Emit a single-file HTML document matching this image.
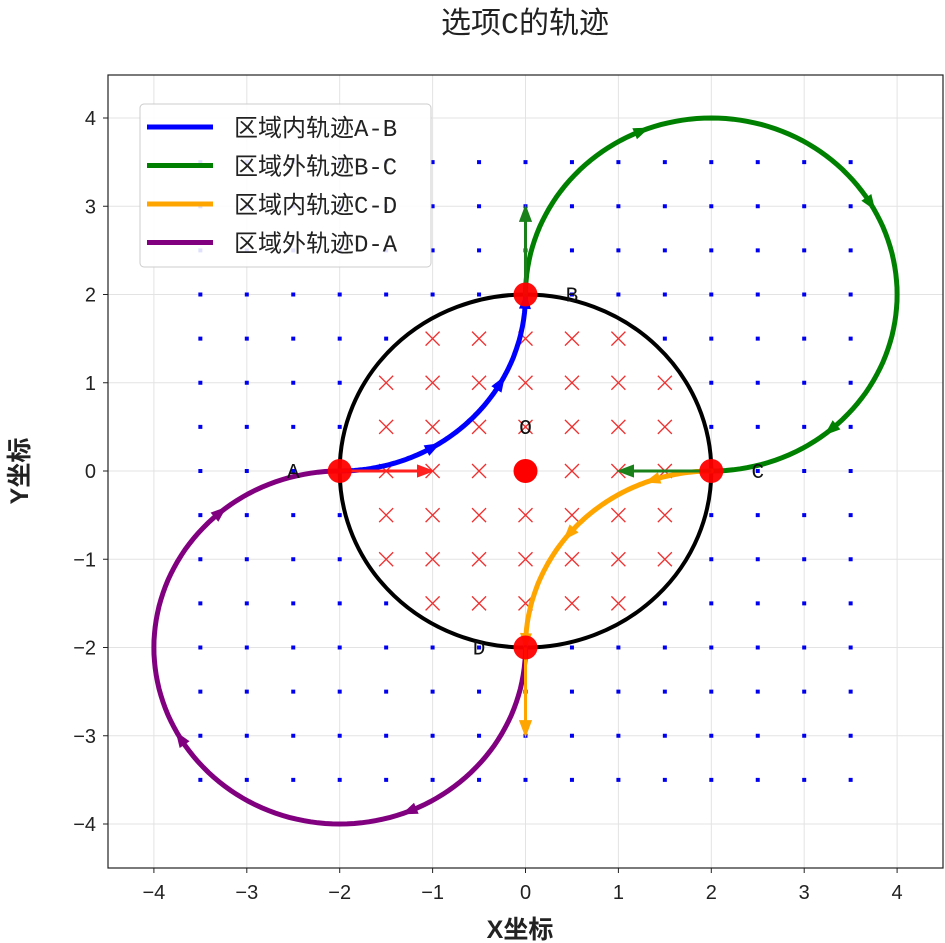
<!DOCTYPE html>
<html><head><meta charset="utf-8"><style>
html,body{margin:0;padding:0;background:#fff;}
svg{display:block;font-family:"Liberation Sans","Noto Sans CJK SC",sans-serif;}
</style></head><body>
<svg id="chart" width="945" height="943" viewBox="0 0 945 943">
<text x="525" y="33" text-anchor="middle" font-size="30" fill="#222" font-family="Liberation Mono, Noto Sans CJK SC, sans-serif">选项C的轨迹</text>
<g id="grid"></g>
<g id="field"></g>
<g id="curves"></g>
<g id="pts"></g>
<rect x="108" y="75" width="835" height="793" fill="none" stroke="#222" stroke-width="1.2"/>
<g id="ticks"></g>
<text x="520" y="938" text-anchor="middle" font-size="25" font-weight="bold" fill="#222">X坐标</text>
<text transform="translate(28,471) rotate(-90)" text-anchor="middle" font-size="25" font-weight="bold" fill="#222">Y坐标</text>
<g>
<rect x="140" y="104" width="291" height="163" rx="4" fill="#fff" fill-opacity="0.88" stroke="#ccc"/>
<g id="legend"></g>
</g>
</svg>
<script>
const xTicks=[-4,-3,-2,-1,0,1,2,3,4];
const yTicks=[-4,-3,-2,-1,0,1,2,3,4];
const seriesNames=["区域内轨迹A-B","区域外轨迹B-C","区域内轨迹C-D","区域外轨迹D-A"];
const seriesColors=["#0000ff","#008000","#ffa500","#800080"];
// arcs: center x, center y, radius, start angle(deg), end angle(deg)
const arcCx=[-2,2,2,-2];
const arcCy=[2,2,-2,-2];
const arcR=[2,2,2,2];
const arcStart=[-90,180,90,0];
const arcEnd=[0,-90,180,-270];
const arrowFracs=[[0.33,0.66,0.97],[0.25,0.55,0.85],[0.2,0.55,0.97],[0.25,0.55,0.85]];
const pointNames=["A","B","C","D"];
const pointX=[-2,0,2,0];
const pointY=[0,2,0,-2];
const labelX=[-2.5,0.5,2.5,-0.5];
const labelY=[0,2,0,-2];
const velFromX=[-2,0,2,0], velFromY=[0,2,0,-2], velToX=[-1,0,1,0], velToY=[0,3,0,-3];
const velColors=["#ff2020","#1a801a","#1a801a","#ffa500"];
const fieldR=2;

const X=v=>525.5+v*92.9, Y=v=>471-v*88.25;
const NS="http://www.w3.org/2000/svg";
function mk(p,t,a){const e=document.createElementNS(NS,t);for(const k in a)e.setAttribute(k,a[k]);p.appendChild(e);return e;}
const grid=document.getElementById('grid'),ticks=document.getElementById('ticks');
xTicks.forEach(v=>{
 const l=mk(grid,'line',{x1:X(v),x2:X(v),y1:75,y2:868,stroke:'#e3e3e3','stroke-width':1});
 
 
 mk(ticks,'line',{x1:X(v),x2:X(v),y1:868,y2:873,stroke:'#222'});
 const t=mk(ticks,'text',{x:X(v),y:899,'text-anchor':'middle','font-size':20,fill:'#222'});
 t.textContent=(v<0?'−':'')+Math.abs(v);
 
 
});
yTicks.forEach(v=>{
 const l=mk(grid,'line',{x1:108,x2:943,y1:Y(v),y2:Y(v),stroke:'#e3e3e3','stroke-width':1});
 
 
 mk(ticks,'line',{x1:103,x2:108,y1:Y(v),y2:Y(v),stroke:'#222'});
 const t=mk(ticks,'text',{x:96,y:Y(v)+7,'text-anchor':'end','font-size':20,fill:'#222'});
 t.textContent=(v<0?'−':'')+Math.abs(v);
 
 
});
const field=document.getElementById('field');
for(let i=-7;i<=7;i++)for(let j=-7;j<=7;j++){
 const x=i/2,y=j/2,d=x*x+y*y;
 if(d>fieldR*fieldR){
  const r=mk(field,'rect',{x:X(x)-2,y:Y(y)-2,width:4,height:4,fill:'#0000ee'});
  
  
 } else if(d<fieldR*fieldR && d>0){
  const g=mk(field,'path',{d:`M${X(x)-7},${Y(y)-7}L${X(x)+7},${Y(y)+7}M${X(x)+7},${Y(y)-7}L${X(x)-7},${Y(y)+7}`,stroke:'#f03030','stroke-width':1.3,fill:'none'});
  
  
 }
}
const curves=document.getElementById('curves');
const c=mk(curves,'ellipse',{cx:X(0),cy:Y(0),rx:fieldR*92.9,ry:fieldR*88.25,fill:'none',stroke:'#000','stroke-width':4});


function arcPt(i,f){const a=(arcStart[i]+(arcEnd[i]-arcStart[i])*f)*Math.PI/180;return [arcCx[i]+arcR[i]*Math.cos(a),arcCy[i]+arcR[i]*Math.sin(a)];}
function head(p,x,y,ang,col,s){
 const ca=Math.cos(ang),sa=Math.sin(ang);
 const pts=[[x+ca*s,y+sa*s],[x-ca*s*0.6-sa*s*0.6,y-sa*s*0.6+ca*s*0.6],[x-ca*s*0.6+sa*s*0.6,y-sa*s*0.6-ca*s*0.6]];
 return mk(p,'polygon',{points:pts.map(q=>q.join(',')).join(' '),fill:col});
}
seriesNames.forEach((n,i)=>{
 let d='';const N=120;
 for(let k=0;k<=N;k++){const [x,y]=arcPt(i,k/N);d+=(k?'L':'M')+X(x).toFixed(1)+','+Y(y).toFixed(1);}
 const p=mk(curves,'path',{d,fill:'none',stroke:seriesColors[i],'stroke-width':5,'stroke-linecap':'round'});
 
 
 arrowFracs[i].forEach(f=>{
  const [x1,y1]=arcPt(i,f-0.01),[x2,y2]=arcPt(i,f);
  const ang=Math.atan2(Y(y2)-Y(y1),X(x2)-X(x1));
  const h=head(curves,X(x2),Y(y2),ang,seriesColors[i],10);
  
  
 });
});
velFromX.forEach((v,i)=>{
 const x1=X(v),y1=Y(velFromY[i]),x2=X(velToX[i]),y2=Y(velToY[i]);
 const ang=Math.atan2(y2-y1,x2-x1);
 const l=mk(curves,'line',{x1,y1,x2:x2-Math.cos(ang)*10,y2:y2-Math.sin(ang)*10,stroke:velColors[i],'stroke-width':3});
 
 
 const h=head(curves,x2-Math.cos(ang)*9,y2-Math.sin(ang)*9,ang,velColors[i],11);
 
 
});
const pts=document.getElementById('pts');
const o=mk(pts,'ellipse',{cx:X(0),cy:Y(0),rx:12,ry:12,fill:'#ff0000'});


const ol=mk(pts,'text',{x:X(0),y:Y(0.5)+7,'text-anchor':'middle','font-size':21,fill:'#111','font-family':'Liberation Mono, monospace'});
ol.textContent='O';


pointNames.forEach((n,i)=>{
 const e=mk(pts,'circle',{cx:X(pointX[i]),cy:Y(pointY[i]),r:12,fill:'#ff0000','fill-opacity':0.95});
 
 
 const t=mk(pts,'text',{x:X(labelX[i]),y:Y(labelY[i])+7,'text-anchor':'middle','font-size':21,fill:'#111','font-family':'Liberation Mono, monospace'});
 t.textContent=n;
 
 
});
const lg=document.getElementById('legend');
seriesNames.forEach((n,i)=>{
 const y=127+i*38.5;
 const l=mk(lg,'line',{x1:147,x2:213,y1:y,y2:y,stroke:seriesColors[i],'stroke-width':5});
 
 
 const t=mk(lg,'text',{x:234,y:y+9,'font-size':24,fill:'#222','font-family':'Liberation Mono, Noto Sans CJK SC, sans-serif'});
 t.textContent=n;
 
 
});
</script>
</body></html>
